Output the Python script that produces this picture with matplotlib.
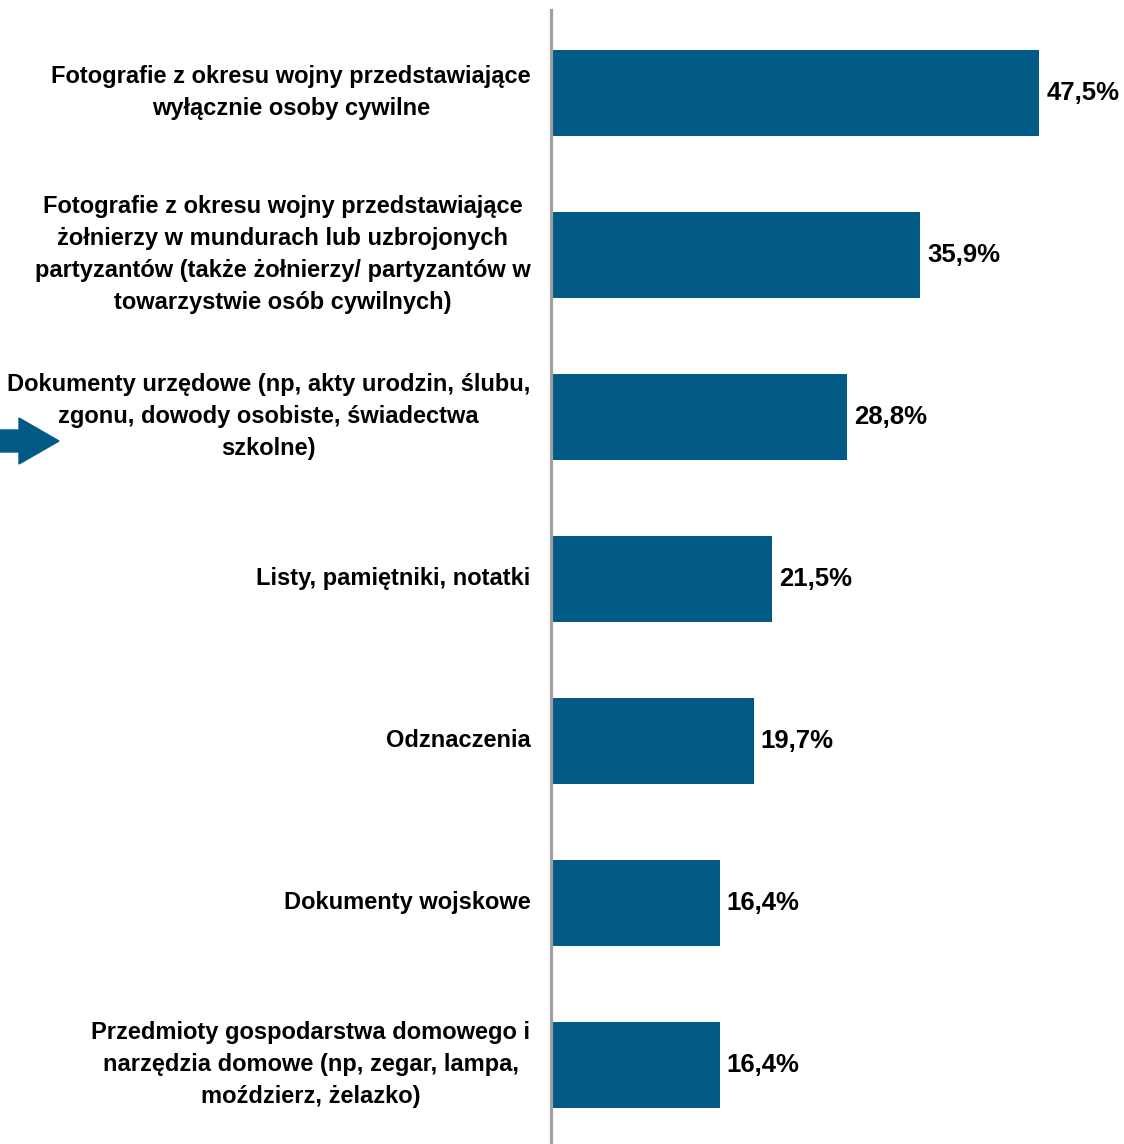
import matplotlib
matplotlib.use("Agg")
import matplotlib.pyplot as plt
from matplotlib.patches import Polygon

plt.rcParams['font.family'] = ['Liberation Sans', 'DejaVu Sans']

categories = [
    "Fotografie z okresu wojny przedstawiające\nwyłącznie osoby cywilne",
    "Fotografie z okresu wojny przedstawiające\nżołnierzy w mundurach lub uzbrojonych\npartyzantów (także żołnierzy/ partyzantów w\ntowarzystwie osób cywilnych)",
    "Dokumenty urzędowe (np, akty urodzin, ślubu,\nzgonu, dowody osobiste, świadectwa\nszkolne)",
    "Listy, pamiętniki, notatki",
    "Odznaczenia",
    "Dokumenty wojskowe",
    "Przedmioty gospodarstwa domowego i\nnarzędzia domowe (np, zegar, lampa,\nmoździerz, żelazko)",
]
values = [47.5, 35.9, 28.8, 21.5, 19.7, 16.4, 16.4]
value_labels = ["47,5%", "35,9%", "28,8%", "21,5%", "19,7%", "16,4%", "16,4%"]

bar_color = "#005a85"
W, H = 1124, 1144

fig = plt.figure(figsize=(W / 100, H / 100), dpi=100)
ax = fig.add_axes([551 / W, 0, 514 / W, 1 - 10 / H])

ypos = list(range(len(values)))
ax.barh(ypos, values, height=0.53, color=bar_color, zorder=2)
ax.set_xlim(0, 50)
ax.set_ylim(6.488, -0.512)

for y, v, lab in zip(ypos, values, value_labels):
    ax.text(v + 0.7, y, lab, va="center", ha="left", fontsize=18.5,
            fontweight="bold", color="black")

for y, cat in zip(ypos, categories):
    ax.text(-2.0, y, cat, va="center", ha="right", multialignment="center",
            fontsize=17, fontweight="bold", color="black", linespacing=1.5)

for s in ["top", "right", "bottom"]:
    ax.spines[s].set_visible(False)
ax.spines["left"].set_color("#a0a0a0")
ax.spines["left"].set_linewidth(2.3)
ax.set_xticks([])
ax.set_yticks([])

# arrow on the left pointing at the third category
arrow_px = [(0, 430), (19, 430), (19, 418), (59, 441), (19, 464), (19, 452), (0, 452)]
arrow = Polygon([(x / W, 1 - y / H) for x, y in arrow_px], closed=True,
                transform=fig.transFigure, color=bar_color)
fig.patches.append(arrow)

fig.savefig("out.png", dpi=100)
